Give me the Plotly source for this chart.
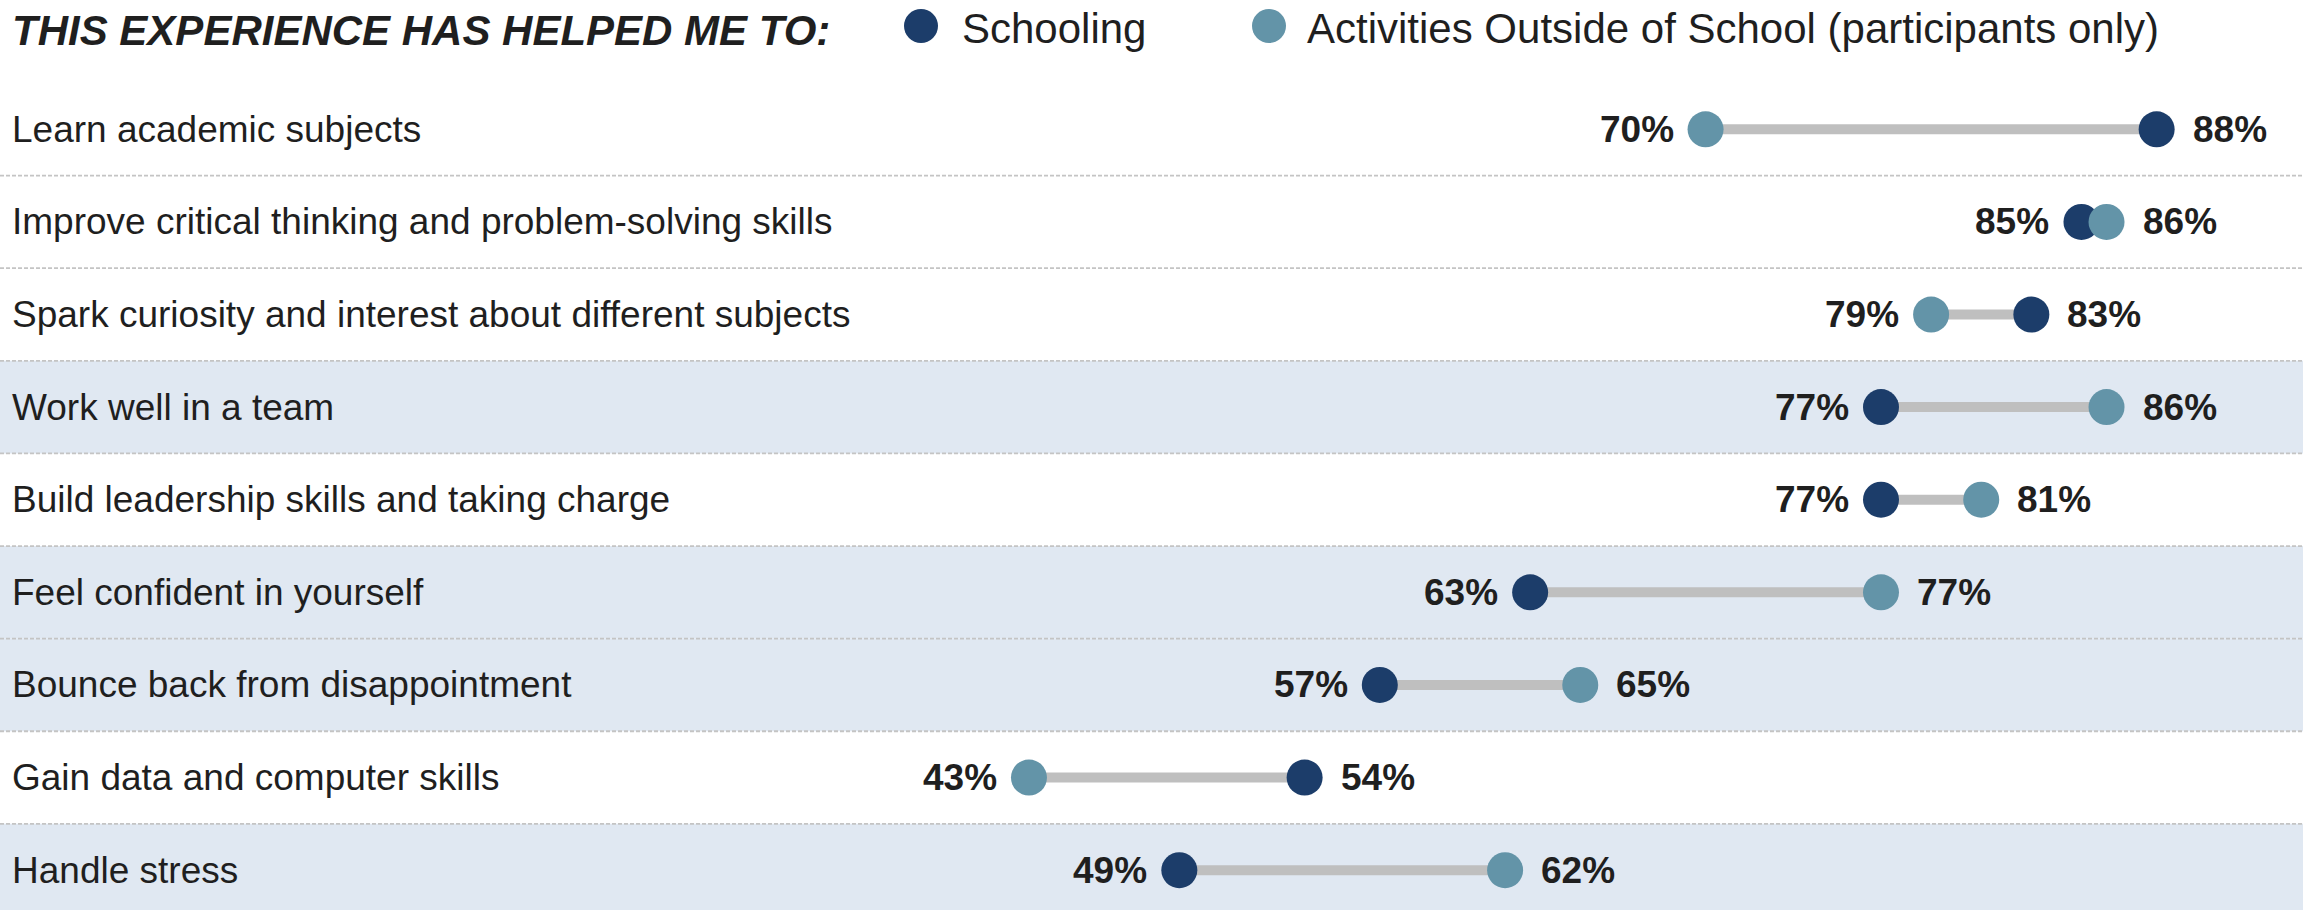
import plotly.graph_objects as go

categories = [
    "Learn academic subjects",
    "Improve critical thinking and problem-solving skills",
    "Spark curiosity and interest about different subjects",
    "Work well in a team",
    "Build leadership skills and taking charge",
    "Feel confident in yourself",
    "Bounce back from disappointment",
    "Gain data and computer skills",
    "Handle stress",
]
schooling = [88, 85, 83, 77, 77, 63, 57, 54, 49]
activities = [70, 86, 79, 86, 81, 77, 65, 43, 62]
shaded = [False, False, False, True, False, True, True, False, True]
series_names = ["Schooling", "Activities Outside of School (participants only)"]
title_text = "THIS EXPERIENCE HAS HELPED ME TO:"

C_SCHOOL = "#1c3d6a"
C_ACT = "#6394a8"
C_LINE = "#bfbfbf"
C_BAND = "#e0e8f2"
C_TEXT = "#1f1f1f"
FONT = "Liberation Sans, Arial, sans-serif"

n = len(categories)
ys = list(range(n))

fig = go.Figure()

# connecting lines
for i in ys:
    fig.add_trace(go.Scatter(
        x=[schooling[i], activities[i]], y=[i, i], mode="lines",
        line=dict(color=C_LINE, width=10), hoverinfo="skip", showlegend=False))

fig.add_trace(go.Scatter(
    x=schooling, y=ys, mode="markers", name=series_names[0],
    marker=dict(color=C_SCHOOL, size=36, line=dict(width=0)), showlegend=False))
fig.add_trace(go.Scatter(
    x=activities, y=ys, mode="markers", name=series_names[1],
    marker=dict(color=C_ACT, size=36, line=dict(width=0)), showlegend=False))

shapes = []
annotations = []
for i in ys:
    if shaded[i]:
        shapes.append(dict(type="rect", xref="paper", yref="y", x0=0, x1=1,
                           y0=i - 0.5, y1=i + 0.5, fillcolor=C_BAND,
                           line=dict(width=0), layer="below"))
for i in range(n - 1):
    shapes.append(dict(type="line", xref="paper", yref="y", x0=0, x1=1,
                       y0=i + 0.5, y1=i + 0.5,
                       line=dict(color="#c4c4c4", width=1.8, dash="4px,2px"),
                       layer="below"))

for i in ys:
    annotations.append(dict(xref="paper", yref="y", x=0, y=i, xshift=10,
                            xanchor="left", yanchor="middle", showarrow=False,
                            text=categories[i],
                            font=dict(size=37, color=C_TEXT, family=FONT)))
    lo = min(schooling[i], activities[i])
    hi = max(schooling[i], activities[i])
    annotations.append(dict(xref="x", yref="y", x=lo, y=i, xshift=-30,
                            xanchor="right", yanchor="middle", showarrow=False,
                            text="<b>%d%%</b>" % lo,
                            font=dict(size=37, color=C_TEXT, family=FONT)))
    annotations.append(dict(xref="x", yref="y", x=hi, y=i, xshift=34,
                            xanchor="left", yanchor="middle", showarrow=False,
                            text="<b>%d%%</b>" % hi,
                            font=dict(size=37, color=C_TEXT, family=FONT)))

# header: title and legend
annotations.append(dict(xref="paper", yref="paper", x=0, y=1, xshift=10, yshift=-5,
                        xanchor="left", yanchor="top", showarrow=False,
                        text="<b><i>%s</i></b>" % title_text,
                        font=dict(size=42, color=C_TEXT, family=FONT)))
legend_items = [(series_names[0], C_SCHOOL, 921 / 2303, 960 / 2303),
                (series_names[1], C_ACT, 1269 / 2303, 1305 / 2303)]
for name, col, xdot, xtxt in legend_items:
    shapes.append(dict(type="circle", xref="paper", yref="paper",
                       xsizemode="pixel", ysizemode="pixel",
                       xanchor=xdot, yanchor=1 - 26 / 910,
                       x0=-17, x1=17, y0=-17, y1=17,
                       fillcolor=col, line=dict(width=0)))
    annotations.append(dict(xref="paper", yref="paper", x=xtxt, y=1, yshift=-3,
                            xanchor="left", yanchor="top", showarrow=False,
                            text=name,
                            font=dict(size=42, color=C_TEXT, family=FONT)))

fig.update_layout(
    width=2303, height=910,
    margin=dict(l=0, r=0, t=0, b=0),
    paper_bgcolor="white", plot_bgcolor="white",
    xaxis=dict(range=[1.94, 93.84], visible=False, fixedrange=True),
    yaxis=dict(range=[8.43, -1.396], visible=False, fixedrange=True),
    shapes=shapes, annotations=annotations,
    showlegend=False,
    font=dict(family=FONT),
)

fig.write_html(
    "out.html",
    config={"displayModeBar": False},
    post_script="document.body.style.margin='0';document.body.style.overflow='hidden';",
)
